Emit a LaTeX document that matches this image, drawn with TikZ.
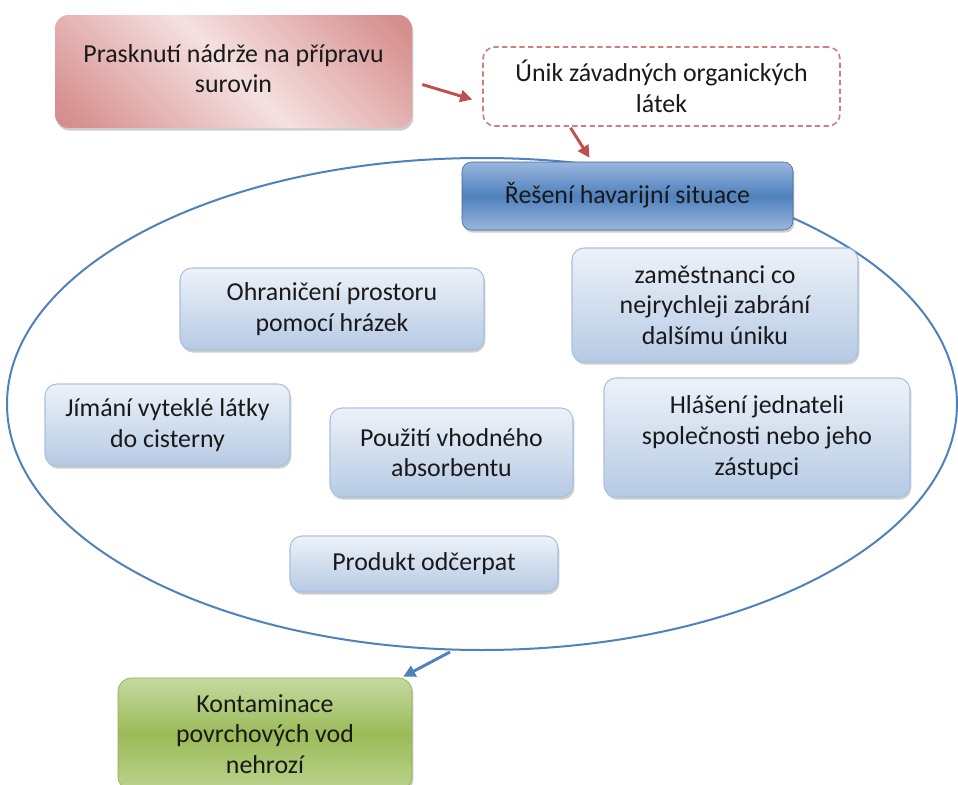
\documentclass[tikz,border=0pt]{standalone}
\usepackage{fontspec}
\setmainfont{Carlito}
\usetikzlibrary{shapes.geometric,arrows.meta,calc,shadows}

\definecolor{rdark}{HTML}{D68F8E}
\definecolor{rlight}{HTML}{F4E1E0}
\definecolor{rline}{HTML}{C0504D}
\definecolor{rdash}{HTML}{D07F7D}
\definecolor{bmid}{HTML}{4F81BD}
\definecolor{bedge}{HTML}{9AB6DE}
\definecolor{bline}{HTML}{4F81BD}
\definecolor{ltop}{HTML}{EDF2F9}
\definecolor{lbot}{HTML}{B6CAE4}
\definecolor{lline}{HTML}{A9C0E0}
\definecolor{gmid}{HTML}{9BBB59}
\definecolor{gtop}{HTML}{C5D9A0}
\definecolor{gbot}{HTML}{BBD28E}
\definecolor{gline}{HTML}{8DAD4F}

% diagonal pink glow for the first box
\pgfdeclarehorizontalshading{redglow}{100bp}{color(0bp)=(rdark); color(18bp)=(rdark); color(50bp)=(rlight); color(82bp)=(rdark); color(100bp)=(rdark)}

\tikzset{
  txt/.style={font=\fontsize{19.4pt}{23pt}\selectfont, align=center, text=black!90},
  softshadow/.style={drop shadow={shadow xshift=1pt, shadow yshift=-2pt, opacity=.35, fill=black!55}},
  redbox/.style={txt, shading=redglow, shading angle=45, rounded corners=10pt, softshadow},
  dashbox/.style={txt, draw=rdash, line width=1.2pt, dash pattern=on 4pt off 2.5pt, fill=white, rounded corners=9pt},
  headbox/.style={txt, top color=bedge, bottom color=bedge, middle color=bmid, draw=bmid!80!black, line width=.4pt, rounded corners=7pt, softshadow},
  stepbox/.style={txt, top color=ltop, bottom color=lbot, draw=lline, line width=.8pt, rounded corners=9pt, softshadow},
  greenbox/.style={txt, top color=gtop, bottom color=gbot, middle color=gmid, draw=gline, line width=.5pt, rounded corners=10pt, softshadow},
  ring/.style={ellipse, draw=bline, line width=1.5pt, inner sep=0pt},
  redarrow/.style={draw=rline, line width=2.2pt, -{Triangle[length=9pt, width=9pt]}},
  bluearrow/.style={draw=bline, line width=2.2pt, -{Triangle[length=9pt, width=9pt]}},
}

\begin{document}
\begin{tikzpicture}[x=0.75pt, y=-0.75pt]
  \useasboundingbox (0,0) rectangle (958,785);

  % the enclosing ellipse of the response measures
  \node[ring, minimum width=712.5pt, minimum height=369pt] (oval) at (482,404) {};

  % cause and consequence
  \node[redbox, minimum width=267.75pt, minimum height=84.75pt] (crack) at (233.5,71.5)
    {\raisebox{6pt}{\begin{tabular}{c}Prasknutí nádrže na přípravu\\surovin\end{tabular}}};
  \node[dashbox, minimum width=267.75pt, minimum height=59.25pt] (leak) at (661.5,86.5)
    {Únik závadných organických\\látek};
  \node[headbox, minimum width=248.25pt, minimum height=51pt] (head) at (627.5,196)
    {\raisebox{4pt}{Řešení havarijní situace}};

  % measures inside the ellipse
  \node[stepbox, minimum width=228pt, minimum height=61.5pt] (dam) at (332,309)
    {Ohraničení prostoru\\pomocí hrázek};
  \node[stepbox, minimum width=214.5pt, minimum height=85.5pt] (staff) at (715,305)
    {zaměstnanci co\\nejrychleji zabrání\\dalšímu úniku};
  \node[stepbox, minimum width=183.75pt, minimum height=61.5pt] (tank) at (167.5,425)
    {Jímání vyteklé látky\\do cisterny};
  \node[stepbox, minimum width=182.25pt, minimum height=66.75pt] (absorb) at (451.5,452.5)
    {Použití vhodného\\absorbentu};
  \node[stepbox, minimum width=229.5pt, minimum height=89.25pt] (report) at (757,437.5)
    {Hlášení jednateli\\společnosti nebo jeho\\zástupci};
  \node[stepbox, minimum width=201pt, minimum height=42pt] (pump) at (424,564)
    {Produkt odčerpat};

  % outcome
  \node[greenbox, minimum width=220.5pt, minimum height=84pt] (safe) at (265,734)
    {Kontaminace\\povrchových vod\\nehrozí};

  % connectors
  \draw[redarrow] ($(crack.east)+(10,13)$) -- ($(leak.west)+(-10,13)$);
  \draw[redarrow] ($(leak.south)+(-91,1)$) -- ($(head.north)+(-38,-4)$);
  \draw[bluearrow] ($(oval.south)+(-32,1)$) -- ($(safe.north east)+(-9,-1)$);
\end{tikzpicture}
\end{document}
